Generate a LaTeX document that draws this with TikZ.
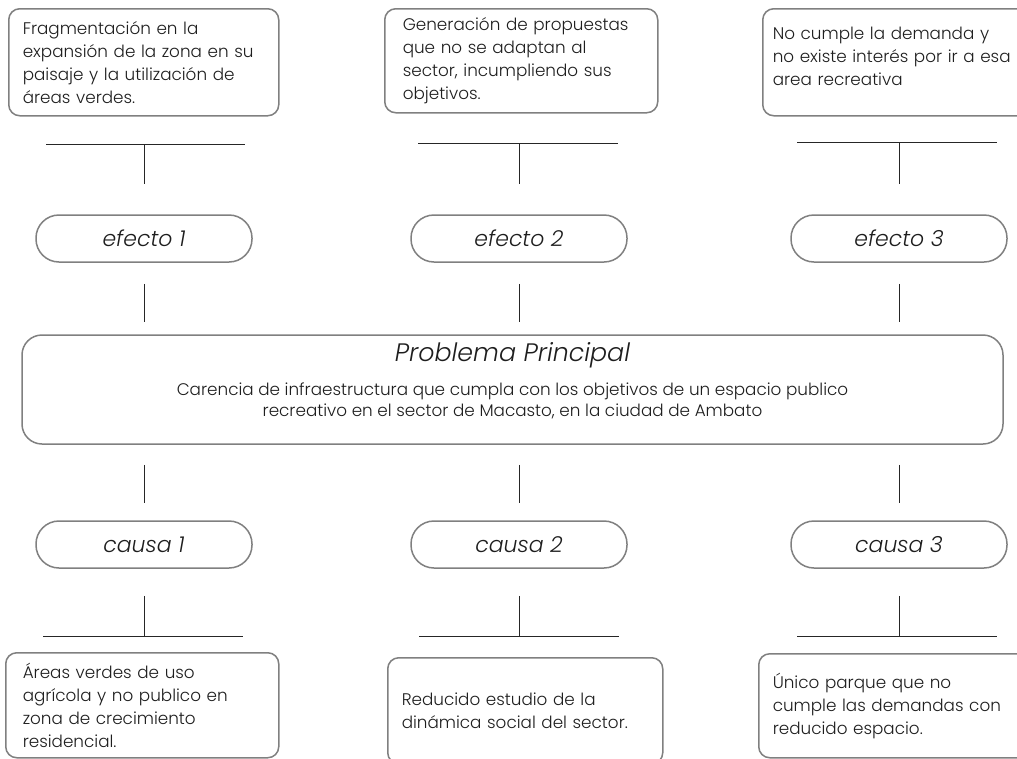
\documentclass[tikz,border=0pt]{standalone}
\usepackage{fontspec}
\setmainfont{Poppins}[UprightFont=* Light, ItalicFont=* Light Italic]
\usetikzlibrary{positioning}

\definecolor{borde}{HTML}{808080}
\definecolor{texto}{HTML}{1E1E1E}

\begin{document}
\begin{tikzpicture}[x=1pt,y=-1pt,
    caja/.style={draw=borde, line width=1.5pt, rounded corners=11pt, anchor=north west,
      align=left, inner ysep=0pt, text=texto, font=\fontsize{16.8}{23}\selectfont},
    ovalo/.style={draw=borde, line width=1.5pt, rounded corners=23pt, minimum width=216pt,
      minimum height=47pt, text=texto, font=\fontsize{22}{24}\selectfont\itshape},
    linea/.style={draw=black!85, line width=1pt}]
  \useasboundingbox[fill=white] (0,0) rectangle (1017,758);
  \clip (0,0) rectangle (1017,758);

  % efectos
  \node[caja, text width=242pt, inner xsep=14pt, minimum height=107pt] (te1) at (8,8)
    {Fragmentación en la\\expansión de la zona en su\\paisaje y la utilización de\\áreas verdes.};
  \node[caja, text width=237pt, inner xsep=18pt, minimum height=104pt] (te2) at (384,8)
    {Generación de propuestas\\que no se adaptan al\\sector, incumpliendo sus\\objetivos.};
  \node[caja, text width=250pt, inner xsep=10pt, minimum height=107pt, text depth=58pt] (te3) at (762,8)
    {No cumple la demanda y\\no existe interés por ir a esa\\area recreativa};

  \coordinate (h1) at (144,144);
  \coordinate (h2) at (519,143);
  \coordinate (h3) at (899,142);
  \draw[linea] ([xshift=-98pt]h1) -- ([xshift=101pt]h1);
  \draw[linea] ([xshift=-101pt]h2) -- ([xshift=99pt]h2);
  \draw[linea] ([xshift=-102pt]h3) -- ([xshift=98pt]h3);

  \node[ovalo] (e1) at (144,238.5) {efecto 1};
  \node[ovalo] (e2) at (519,238.5) {efecto 2};
  \node[ovalo] (e3) at (899,238.5) {efecto 3};

  \draw[linea, shorten >=30pt] (h1) -- (e1.north);
  \draw[linea, shorten >=30pt] (h2) -- (e2.north);
  \draw[linea, shorten >=30pt] (h3) -- (e3.north);

  % problema
  \node[draw=borde, line width=1.5pt, rounded corners=20pt, minimum width=981pt,
    minimum height=109pt, align=center, text=texto, text depth=21pt,
    font=\fontsize{16.8}{21}\selectfont] (p) at (512.5,389.5)
    {{\fontsize{25.3}{28}\selectfont\itshape Problema Principal}\\[13pt]
     Carencia de infraestructura que cumpla con los objetivos de un espacio publico\\
     recreativo en el sector de Macasto, en la ciudad de Ambato};

  \draw[linea, shorten <=21pt, shorten >=12pt] (e1.south) -- (e1.south |- p.north);
  \draw[linea, shorten <=21pt, shorten >=12pt] (e2.south) -- (e2.south |- p.north);
  \draw[linea, shorten <=21pt, shorten >=12pt] (e3.south) -- (e3.south |- p.north);

  % causas
  \node[ovalo] (c1) at (144,544.5) {causa 1};
  \node[ovalo] (c2) at (519,544.5) {causa 2};
  \node[ovalo] (c3) at (899,544.5) {causa 3};

  \draw[linea, shorten <=20pt, shorten >=17pt] (c1.north |- p.south) -- (c1.north);
  \draw[linea, shorten <=20pt, shorten >=17pt] (c2.north |- p.south) -- (c2.north);
  \draw[linea, shorten <=20pt, shorten >=17pt] (c3.north |- p.south) -- (c3.north);

  \coordinate (b1) at (144,636);
  \coordinate (b2) at (519,636);
  \coordinate (b3) at (899,636);
  \draw[linea, shorten <=27pt] (c1.south) -- (b1);
  \draw[linea, shorten <=27pt] (c2.south) -- (b2);
  \draw[linea, shorten <=27pt] (c3.south) -- (b3);
  \draw[linea] ([xshift=-101pt]b1) -- ([xshift=99pt]b1);
  \draw[linea] ([xshift=-100pt]b2) -- ([xshift=100pt]b2);
  \draw[linea] ([xshift=-102pt]b3) -- ([xshift=98pt]b3);

  \node[caja, text width=239pt, inner xsep=17pt, minimum height=105pt] (tc1) at (5,652)
    {Áreas verdes de uso\\agrícola y no publico en\\zona de crecimiento\\residencial.};
  \node[caja, text width=247pt, inner xsep=14pt, minimum height=106pt] (tc2) at (387,657)
    {Reducido estudio de la\\dinámica social del sector.};
  \node[caja, text width=244pt, inner xsep=14pt, minimum height=104pt] (tc3) at (758,653)
    {Único parque que no\\cumple las demandas con\\reducido espacio.};
\end{tikzpicture}
\end{document}
